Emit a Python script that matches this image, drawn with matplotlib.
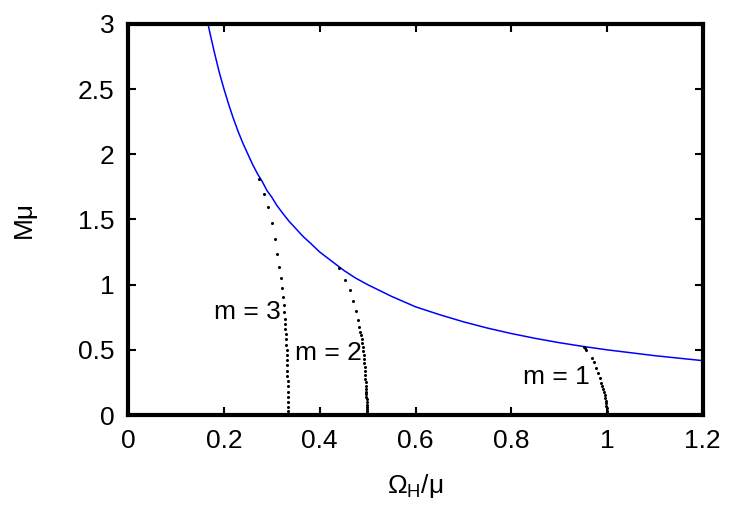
import matplotlib
matplotlib.use("Agg")
import matplotlib.pyplot as plt

plt.rcParams['font.family'] = ['Liberation Sans', 'DejaVu Sans']
plt.rcParams['mathtext.fontset'] = 'custom'
plt.rcParams['mathtext.rm'] = 'Liberation Sans'
plt.rcParams['mathtext.it'] = 'Liberation Sans'

# === Linea di esistenza (Kerr estremale) ===
kerr_w = [0.165, 0.17, 0.18, 0.19, 0.20, 0.21, 0.22, 0.23, 0.24, 0.25, 0.26, 0.27,
          0.28, 0.29, 0.30, 0.31, 0.32, 0.335, 0.35, 0.365, 0.38, 0.40, 0.425,
          0.45, 0.475, 0.50, 0.55, 0.60, 0.65, 0.70, 0.75, 0.80, 0.85, 0.90,
          0.95, 1.00, 1.10, 1.20]
kerr_m = [3.03, 2.94, 2.78, 2.63, 2.50, 2.38, 2.27, 2.17, 2.08, 2.00, 1.92, 1.85,
          1.79, 1.72, 1.67, 1.61, 1.56, 1.49, 1.43, 1.37, 1.32, 1.25, 1.18,
          1.11, 1.05, 1.00, 0.91, 0.83, 0.77, 0.715, 0.667, 0.625, 0.588, 0.555,
          0.526, 0.50, 0.455, 0.417]

# === Rami m = 3, 2, 1 (punti) ===
m3_w = [0.2734, 0.2844, 0.2928, 0.2999, 0.3074, 0.3116, 0.3151, 0.3187, 0.3207,
        0.3228, 0.3249, 0.3262, 0.3270, 0.3277, 0.3284, 0.3290, 0.3296, 0.3301,
        0.3306, 0.3311, 0.3315, 0.3319, 0.3322, 0.3325, 0.3327, 0.3329, 0.3331,
        0.3332, 0.3333, 0.3333, 0.3333, 0.3333]
m3_m = [1.808, 1.696, 1.594, 1.475, 1.350, 1.235, 1.133, 1.049, 0.972,
        0.908, 0.844, 0.792, 0.74, 0.70, 0.66, 0.62, 0.58, 0.54,
        0.50, 0.46, 0.42, 0.38, 0.34, 0.30, 0.26, 0.22, 0.18,
        0.14, 0.10, 0.06, 0.03, 0.0]

m2_w = [0.441, 0.4528, 0.4633, 0.4702, 0.4758, 0.4800, 0.4827, 0.4845, 0.4860,
        0.4873, 0.4885, 0.4896, 0.4906, 0.4915, 0.4923, 0.4930, 0.4937, 0.4943,
        0.4949, 0.4954, 0.4958, 0.4962, 0.4966, 0.4970, 0.4973, 0.4976, 0.4979,
        0.4982, 0.4985, 0.4988, 0.4991, 0.4994, 0.4997, 0.4999, 0.5000]
m2_m = [1.126, 1.036, 0.959, 0.875, 0.798, 0.729, 0.678, 0.64, 0.61,
        0.58, 0.55, 0.52, 0.49, 0.46, 0.43, 0.40, 0.37, 0.34,
        0.31, 0.28, 0.25, 0.22, 0.20, 0.18, 0.16, 0.14, 0.12,
        0.10, 0.08, 0.06, 0.045, 0.03, 0.015, 0.005, 0.0]

m1_w = [0.951, 0.954, 0.957, 0.9689, 0.9731, 0.9773, 0.9814, 0.9850, 0.9885,
        0.9905, 0.9922, 0.9937, 0.9950, 0.9961, 0.9970, 0.9978, 0.9985, 0.9990,
        0.9995, 0.9998, 1.0000]
m1_m = [0.525, 0.512, 0.50, 0.440, 0.404, 0.363, 0.320, 0.282, 0.243,
        0.220, 0.198, 0.176, 0.154, 0.132, 0.110, 0.090, 0.070, 0.050,
        0.030, 0.012, 0.0]

labels = ["m = 3", "m = 2", "m = 1"]
label_pos = [(0.249, 0.79), (0.419, 0.476), (0.895, 0.29)]

fig = plt.figure(figsize=(7.5, 5.25), dpi=100)
ax = fig.add_axes([0.171, 0.2095, 0.766, 0.745])

ax.plot(kerr_w, kerr_m, color='blue', linewidth=1.1, zorder=2)
for w, m in [(m3_w, m3_m), (m2_w, m2_m), (m1_w, m1_m)]:
    ax.plot(w, m, linestyle='none', marker='o', markersize=2.2,
            color='black', markeredgewidth=0, zorder=3)

for txt, (x, y) in zip(labels, label_pos):
    ax.text(x, y, txt, fontsize=19, ha='center', va='center')

ax.set_xlim(0, 1.2)
ax.set_ylim(0, 3)
ax.set_xticks([0, 0.2, 0.4, 0.6, 0.8, 1.0, 1.2])
ax.set_xticklabels(["0", "0.2", "0.4", "0.6", "0.8", "1", "1.2"])
ax.set_yticks([0, 0.5, 1, 1.5, 2, 2.5, 3])
ax.set_yticklabels(["0", "0.5", "1", "1.5", "2", "2.5", "3"])
ax.tick_params(direction='in', length=6, width=1.5, top=True, right=True,
               labelsize=19, pad=10)
for s in ax.spines.values():
    s.set_linewidth(3)

ax.set_xlabel(r'$\mathrm{Ω_H/μ}$', fontsize=19, labelpad=14)
ax.set_ylabel('Mμ', fontsize=19, labelpad=30)

plt.savefig("out.png", dpi=100)
